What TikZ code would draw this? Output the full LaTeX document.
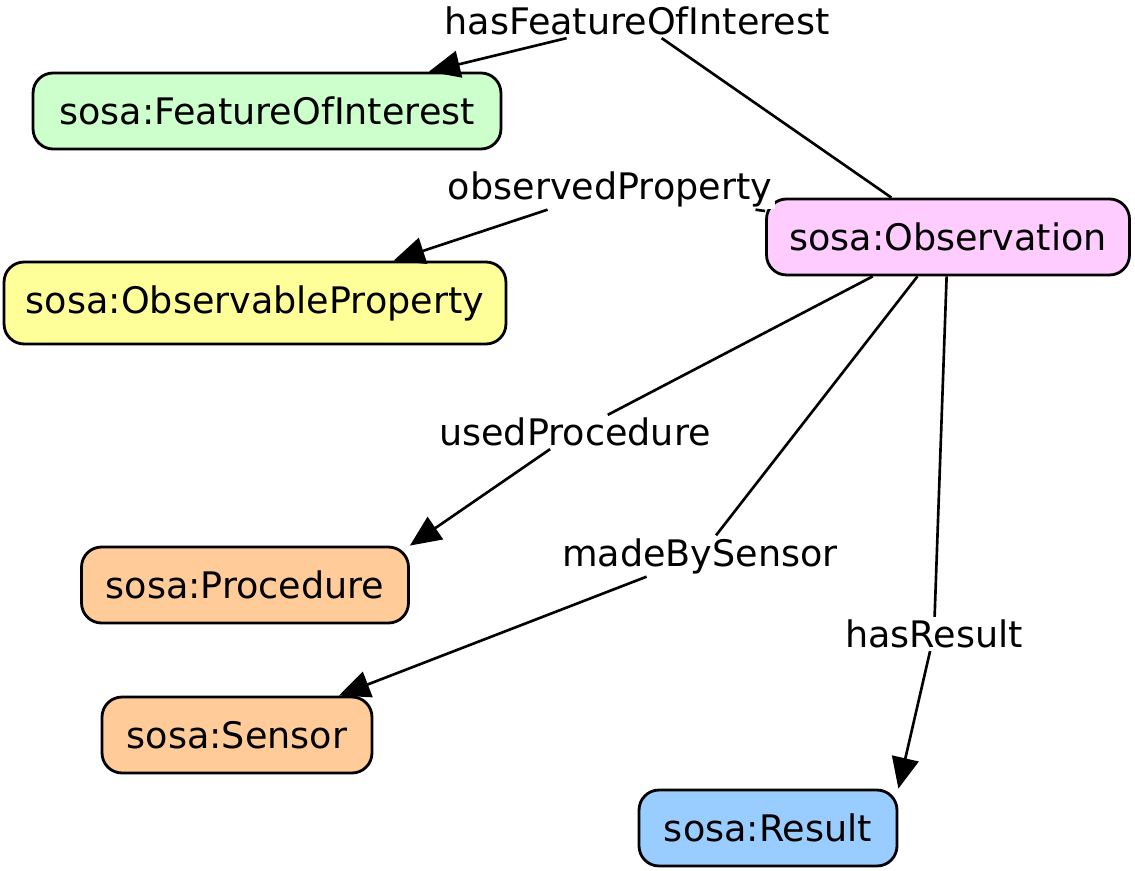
\documentclass[tikz,border=0pt]{standalone}
\usepackage{fontspec}
\setmainfont{DejaVu Sans}
\usetikzlibrary{arrows.meta}

\definecolor{foigreen}{HTML}{CCFFCC}
\definecolor{propyellow}{HTML}{FFFF99}
\definecolor{obspink}{HTML}{FFCCFF}
\definecolor{procorange}{HTML}{FFCC99}
\definecolor{resblue}{HTML}{99CCFF}

\tikzset{
	cls/.style={draw, line width=1.6pt, rounded corners=0.4cm, minimum height=1.52cm, inner sep=0pt, font=\fontsize{20.8}{24}\selectfont},
	prop/.style={fill=white, inner sep=1.5pt, font=\fontsize{20.8}{24}\selectfont},
	link/.style={line width=1.5pt},
	arr/.style={line width=1.5pt, -{Triangle[length=0.62cm, width=0.54cm]}}
}

\begin{document}
\begin{tikzpicture}[x=0.02cm, y=-0.02cm]
		\useasboundingbox (0,0) rectangle (1135,871);

		%classes
		\node[cls, fill=foigreen, minimum width=9.36cm] (foi) at (267,111) {sosa:FeatureOfInterest};
		\node[cls, fill=propyellow, minimum width=10.04cm, minimum height=1.64cm] (prop) at (255,303) {sosa:ObservableProperty};
		\node[cls, fill=obspink, minimum width=7.26cm] (obs) at (948,237) {sosa:Observation};
		\node[cls, fill=procorange, minimum width=6.54cm] (proc) at (245,585) {sosa:Procedure};
		\node[cls, fill=procorange, minimum width=5.4cm] (sen) at (237,735) {sosa:Sensor};
		\node[cls, fill=resblue, minimum width=5.16cm] (res) at (768,828) {sosa:Result};

		%properties
		\node[prop] (hfoi) at (637,21) {hasFeatureOfInterest};
		\node[prop] (oprop) at (610,189) {observedProperty};
		\node[prop] (uproc) at (575,432) {usedProcedure};
		\node[prop] (mbs) at (700,556) {madeBySensor};
		\node[prop] (hres) at (934,634) {hasResult};

		%edges
		\draw[link] (obs) -- (hfoi);
		\draw[arr] (hfoi) -- (foi);

		\draw[link] (obs) -- (oprop);
		\draw[arr] (oprop) -- (prop.17);

		\draw[link] (obs) -- (uproc);
		\draw[arr] (uproc) -- (proc.north east);

		\draw[link] (obs) -- (mbs);
		\draw[arr] (mbs) -- (sen);

		\draw[link] (obs) -- (hres);
		\draw[arr] (hres) -- (res.north east);
	\end{tikzpicture}
\end{document}
